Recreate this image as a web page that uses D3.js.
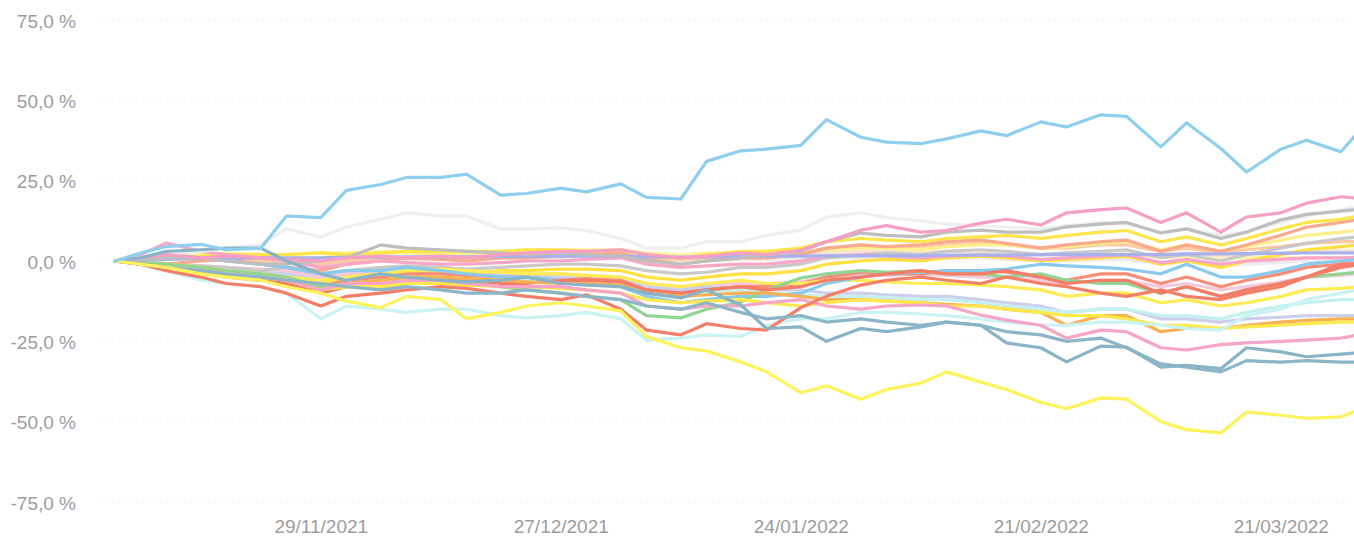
<!DOCTYPE html>
<html>
<head>
<meta charset="utf-8">
<script src="https://cdn.jsdelivr.net/npm/d3@7"></script>
<style>
  html, body { margin: 0; padding: 0; background: #fff; }
  svg { display: block; }
  .axis text { font-family: "Liberation Sans", Arial, sans-serif; font-size: 19px; fill: #9c9c9c; }
</style>
</head>
<body>
<div id="chart"></div>
<script>
// sample dates (Mon / Thu closes)
var dates = ["2021-11-05","2021-11-08","2021-11-11","2021-11-15","2021-11-18","2021-11-22","2021-11-25",
  "2021-11-29","2021-12-02","2021-12-06","2021-12-09","2021-12-13","2021-12-16","2021-12-20","2021-12-23",
  "2021-12-27","2021-12-30","2022-01-03","2022-01-06","2022-01-10","2022-01-13","2022-01-17","2022-01-20",
  "2022-01-24","2022-01-27","2022-01-31","2022-02-03","2022-02-07","2022-02-10","2022-02-14","2022-02-17",
  "2022-02-21","2022-02-24","2022-02-28","2022-03-03","2022-03-07","2022-03-10","2022-03-14","2022-03-17",
  "2022-03-21","2022-03-24","2022-03-28","2022-03-30"];

var yTicks = [-75, -50, -25, 0, 25, 50, 75];
var xTicks = ["2021-11-29","2021-12-27","2022-01-24","2022-02-21","2022-03-21"];

// performance in % since start, one array per stock
var veryLight   = [0,0.5,0.5,1,1,0.5,0,-1,0,0.5,0.5,0.5,0.5,1,1,1,1,1,0,-0.5,0,0.5,0.5,0.5,1,1,1,0.5,1,1,0.5,0,0,0.5,0.5,-1,0,-1.5,-1,-0.5,0,0,0];
var paleYellow  = [0,1,1.5,2,2.5,2,2,2.5,2.5,3,3,3,3,3,3.5,3.5,3.5,3.5,2.5,2,2.5,2.5,2,2.5,3,3,3,2.5,3,3,2.5,2,2,2.5,2.5,1,1.5,0.5,1,1,1,1,1];
var cream       = [0,0.5,1,0.5,0,0,-0.5,-1,0,0.5,1,1,1,1.5,1.5,2,2,2,1,0.5,1,1.5,1.5,2,2.5,3,3,2.5,3,3,2.5,2,2.5,2.5,3,1.5,2.5,1.5,2,2.5,3,3.2,3.4];
var peach       = [0,0,0.5,1,0.5,0,-0.5,-1,0,0.5,1,1.5,1.5,1.5,2,2,2,2.5,1,0.5,1,1.5,2,2.5,4,4.5,4,4,5,5.5,5,4,4,5,5,3,4,2.5,3.5,4.5,5.5,6,6];
var lightPink   = [0,-0.5,-1,-1.5,-2,-2.5,-3,-5,-4,-3.5,-3,-3,-3.5,-4,-4,-4,-4.5,-5,-7,-8,-7.5,-7,-7,-6.5,-5,-4.5,-4.5,-4,-4.5,-5,-5,-6,-7,-6,-6,-8,-7,-9,-8,-6.5,-5,-4.5,-4];
var lightLilac  = [0,0,-1,-2,-3,-3.5,-4,-6,-5,-4,-3,-3,-3.5,-4,-4.5,-5,-5,-5.5,-8,-9,-8,-8.5,-9,-9,-10,-10,-10.5,-11,-11,-12,-13,-14,-16,-15,-15,-18,-18,-19,-18,-17.5,-17,-17,-17];
var lightCyan2  = [0,-0.5,-1.5,-2.5,-3,-4,-5,-7,-6,-5.5,-5,-5,-5.5,-6,-6,-6.5,-7,-7.5,-9,-10,-9.5,-9,-10,-10.5,-11,-11,-11.5,-12,-12,-13,-14,-15,-16,-15,-15,-17,-17,-18,-16,-14,-13,-12,-12];
var lightYellow = [0,0,0.5,1,1,1.5,1,1,2,2.5,2.5,2,2.5,2.5,3,3,2.5,2.5,1.5,1,1.5,2,2,2.5,3.5,4,4,3.5,4.5,5,5,4,4.5,5.5,6,3.5,5,3,4.5,6.5,8,9,9.6];
var grayMid     = [0,-0.5,-1,-1.5,-2,-3,-2,-4,-3,-2,-1.5,-2,-2.5,-2,-1.5,-1,-1,-1.5,-3,-4,-3.5,-2,-2,-1,1,2,2.5,2,3,3.5,3,2,2.5,3,3.5,1,2,0,2,4,5.5,7,7.5];
var salmonUp    = [0,-0.5,-1,0,0.5,-1,-2,-3,-1,0,1,0.5,0,1,1,1.5,2,2.5,0.5,-1,0,1,1,2,4,5,4.5,5,6,6.5,5.5,4,5,6,6.5,3,5,3,5,8,10.5,12,12.8];
var yellowUp    = [0,0.5,1,1.5,2,2,2,2.5,2,2.5,3,3,3,3,3.5,3.5,3,3.5,2,1,2,3,3,4,6,7,6.5,6,7,7.5,8,7,8,9,9.5,6,7.5,5,7,10,12,13,14];
var yellowMid   = [0,0,-1,-2,-3,-4,-5,-7,-5,-4,-3,-3.5,-4,-3,-3,-2.5,-2.5,-3,-5,-6,-5,-4,-4,-3,-1,0,0.5,0,1,1.5,1,0,0.5,1,1.5,-1,0,-2,0,2,3.5,4.5,5];
var pinkMid     = [0,2,5.6,3,2,1,0,-2,-1,0,-0.5,-1,-1,-0.5,0,0,0.5,1,-1,-2,-1.5,-1,-1,0,1.5,2,1.5,1,1.5,2,1.5,0.5,1,1.5,2,-0.5,0.5,-1,0,0.5,1,1,1.2];
var salmon      = [0,-1,-2,-3,-4,-5,-6,-8,-6,-5,-4,-4,-4.5,-5,-5,-6,-5.5,-6,-9,-10,-9,-8,-8,-7,-5,-3.5,-4,-4,-3,-3,-3.5,-5,-6,-4,-4,-7,-5,-8,-6,-4,-2,-1,-0.6];
var yellowLow   = [0,-1,-2,-3,-4,-4,-5,-6,-5,-4,-3,-2.5,-3,-3.5,-4,-4,-4.5,-5,-7,-8,-7,-6,-7,-7,-6,-6,-6.5,-7,-7,-7.5,-8,-9,-11,-10,-10,-13,-12,-14,-13,-11,-9,-8.5,-8];
var skyBlue     = [0,1,2,1,0,-1,-2,-4,-3,-3,-2,-3,-4,-5,-5,-6,-7,-8,-11,-13,-12,-11,-11,-10,-7,-5,-4,-3.5,-3,-3,-2.5,-1,-1.5,-2,-2.5,-4,-1,-5,-5,-3,-1,0,0.5];
var green       = [0,-0.5,-1,-2,-3,-4,-5,-8,-7,-7,-6,-6,-6.5,-8,-9,-10,-11,-12,-17,-17.7,-15,-12.8,-9,-5.3,-4,-3,-3.5,-3,-4,-4,-5,-4,-6,-7,-7,-10,-8,-11,-9,-7,-5,-4,-3.5];
var red2        = [0,-1,-2,-3,-5,-6,-7,-10,-8,-8,-7,-6,-6,-7,-7,-6,-6,-6.5,-9,-10,-9,-8,-9,-8,-6,-5,-4,-3,-4,-4,-3,-5,-7,-6,-6,-10,-8,-11,-9,-7,-5,-2,-1.2];
var orange      = [0,-1,-2,-3,-4,-5,-6,-9,-7,-6,-5,-5,-5.5,-6,-6.5,-7,-7,-7.5,-10,-11,-10.5,-10,-10,-11,-12,-12,-12.5,-13,-13.5,-14,-15,-16,-20,-17,-17,-22,-21,-21,-20,-19,-18.5,-18,-18];
var yellowThick = [0,-1,-2,-3,-4,-5,-6,-9,-8,-8,-7,-7,-7.5,-8,-8,-8.5,-9,-10,-12,-13,-12.5,-12,-13,-14,-13,-12,-12.5,-13,-14,-14,-15,-16,-17,-17,-18,-20,-20,-21,-20.5,-20,-19.5,-19,-19];
var lavender    = [0,0.3,0.5,0.8,0.8,1,1,1,1.2,1.2,1.3,1.3,1.3,1.4,1.5,1.5,1.5,1.5,1.3,1.2,1.3,1.4,1.5,1.5,1.6,1.6,1.7,1.7,1.8,1.8,1.8,2,2,2,2,2,2.2,2.2,2.3,2.4,2.5,2.5,2.5];
var silver      = [0,1,2,3,4,5,10,7.5,10.6,13,15,14,14,10,10,10.3,9.5,7,4,4,6,6,8,9.6,13.7,15,13.5,12.5,11.5,11,10.5,10,11,12,11.5,9,10,8,9,12,14,16,17];
var gray        = [0,0.5,1,1,0,-1,-1,0,1,5,4,3.5,3,2.5,2,2.5,2,1.5,0,-1,0,1,2,3,6,8.7,8,7.5,9,9.6,9,9,10.6,11.5,12,8.7,10,7,9,12.8,14.5,15.5,16];
var pinkTop     = [0,1,2,1,1.5,1,0.5,0,1,1.5,1,1.5,1,2,2.5,3,3,3.5,2,1,1.5,2.5,2,3.4,6,9.6,11,9,9.5,11.8,13,11.2,15,16,16.5,12,15,9,13.7,15,18,20,19.5];
var cyan        = [0,-1,-3,-6,-7,-8,-10,-18,-14,-15,-16,-15,-15,-17,-17.7,-17,-16,-18,-24.6,-24,-23,-23.5,-20,-18,-18,-16,-16,-16.5,-17,-18,-19,-20,-20,-19,-19,-20,-21,-21.5,-17,-15,-12,-10,-9];
var pinkLow     = [0,-1,-2,-3,-4,-5,-6,-9,-7,-7,-6,-6,-7,-8,-8,-8,-9,-10,-14,-15,-14,-14,-13,-12,-14,-15,-14,-13.7,-14,-16.8,-18.4,-20,-24,-21.5,-22,-27,-27.7,-26,-25.5,-25,-24.6,-24,-23];
var red         = [0,-1,-3,-5,-7,-8,-10,-14,-11,-10,-9,-8,-8.5,-10,-11,-12,-10.5,-15,-21.5,-23,-19.5,-21,-21.5,-14.5,-11,-7.5,-6,-5,-6,-7,-5,-7,-8,-10,-11,-9,-11,-12,-10,-8,-5,-1,-1];
var steelB      = [0,-1,-2,-3,-4,-5,-6,-7,-8,-9,-8,-9,-10,-10,-9,-10,-11,-12,-14,-15,-13,-16,-18,-17,-19,-18,-19,-20,-19,-20,-22,-23,-25,-24,-27,-32,-33,-34.5,-31,-31.5,-31,-31.5,-31.5];
var steelA      = [0,1,3,3.5,4,4,0,-4,-6,-4,-5,-6,-6.5,-6,-5,-7,-7.5,-8,-10,-11.5,-9,-13.7,-21,-20.5,-25,-21,-22,-20.5,-19,-20,-25.5,-27,-31.4,-26.5,-26.8,-33,-32.5,-33.5,-27,-28.3,-29.8,-29,-28.6];
var yellowBottom= [0,-1,-2,-4,-5,-6,-8,-10,-12.5,-14.5,-11,-12,-18,-16,-14,-13,-14,-15.5,-23.5,-27,-28,-31.4,-34.5,-41,-38.8,-43,-40,-38,-34.5,-37.7,-40,-44,-46,-42.6,-43,-50,-52.5,-53.5,-47,-48,-49,-48.5,-46.4];
var topBlue     = [0,2.5,4.5,5.2,3.5,4,14,13.5,22,23.8,26,26,27,20.5,21,22.7,21.5,24,19.8,19.3,31,34.3,34.8,36,44,38.5,37,36.5,38,40.5,39,43.3,41.7,45.5,45,35.5,43,35,27.7,34.8,37.6,34,40];

// drawing order (back to front) and colours
var lineValues = [veryLight, paleYellow, cream, peach, lightPink, lightLilac, lightCyan2, lightYellow, grayMid,
  salmonUp, yellowUp, yellowMid, pinkMid, salmon, yellowLow, skyBlue, green, red2, orange, yellowThick,
  lavender, silver, gray, pinkTop, cyan, pinkLow, red, steelB, steelA, yellowBottom, topBlue];
var lineColors = ["#ebebf2", "#fff4a8", "#f6e6d2", "#fcc9a4", "#f8c8da", "#cdd0ec", "#c4f0f0", "#fdf08c", "#c9c9c9",
  "#f9a98d", "#fde54a", "#ffe040", "#f7a6c8", "#f88d77", "#ffec55", "#89c9ee", "#92d592", "#f57c66", "#f8b052", "#fde84e",
  "#a8b1ec", "#efefef", "#bebebe", "#f59fc4", "#c9f4f3", "#f6a4c7", "#f57e68", "#8cb6c8", "#89b4c7", "#fff35c", "#8ecff0"];

var width = 1354, height = 537;
var parse = d3.timeParse("%Y-%m-%d");
var pct = d3.formatLocale({decimal: ",", thousands: ".", grouping: [3], currency: ["", " €"], minus: "-"}).format(".1f");

var svg = d3.select("#chart").append("svg")
    .attr("width", width)
    .attr("height", height);

var x = d3.scaleTime()
    .domain([parse("2021-11-05"), parse("2022-03-30")])
    .range([115, 1358]);
var y = d3.scaleLinear()
    .domain([-75, 75])
    .range([502, 20]);

// faint grid
var grid = svg.append("g")
    .attr("transform", "translate(100,0)")
    .call(d3.axisLeft(y).tickValues(yTicks).tickSize(-(width - 100)).tickFormat(""));
grid.select(".domain").remove();
grid.selectAll("line").attr("stroke", "#f2f2f2").attr("stroke-dasharray", "2,4");

var yAxis = svg.append("g")
    .attr("class", "axis")
    .attr("transform", "translate(76,1)")
    .call(d3.axisLeft(y).tickValues(yTicks).tickSize(0).tickPadding(0)
      .tickFormat(function(d){ return pct(d) + " %"; }));
yAxis.select(".domain").remove();

var xAxis = svg.append("g")
    .attr("class", "axis")
    .attr("transform", "translate(0,512)")
    .call(d3.axisBottom(x).tickValues(xTicks.map(parse)).tickSize(0).tickPadding(8)
      .tickFormat(d3.timeFormat("%d/%m/%Y")));
xAxis.select(".domain").remove();

var line = d3.line()
    .x(function(d){ return x(d.date); })
    .y(function(d){ return y(d.value); });

var table = lineValues.map(function(vals, i){
  return {
    color: lineColors[i],
    points: vals.map(function(v, j){ return {date: parse(dates[j]), value: v}; })
  };
});

svg.append("g").selectAll("path")
  .data(table)
  .enter().append("path")
    .attr("d", function(d){ return line(d.points); })
    .attr("fill", "none")
    .attr("stroke", function(d){ return d.color; })
    .attr("stroke-width", 3.2)
    .attr("stroke-linejoin", "round")
    .attr("stroke-linecap", "round");
</script>
</body>
</html>
